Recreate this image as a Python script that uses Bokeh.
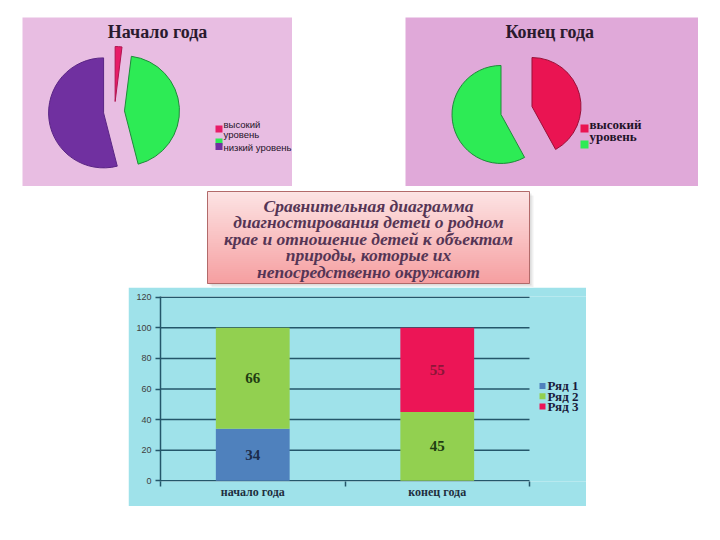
import numpy as np
from bokeh.plotting import figure
from bokeh.layouts import column, row
from bokeh.models import Spacer, Range1d, FixedTicker, ColumnDataSource
from bokeh.core.properties import value
from bokeh.embed import file_html
from bokeh.resources import INLINE

# ---------------- data ----------------
pie1_title = "Начало года"
pie1_legend = ["высокий\nуровень", "", "низкий уровень"]
pie1_values = [2, 44, 54]

pie2_title = "Конец  года"
pie2_legend = ["высокий\nуровень", ""]
pie2_values = [42, 58]

box_lines = [
    "Сравнительная диаграмма",
    "диагностирования детей о родном",
    "крае и отношение детей к объектам",
    "природы, которые их",
    "непосредственно окружают",
]

bar_categories = ["начало года", "конец года"]
series_names = ["Ряд 1", "Ряд 2", "Ряд 3"]
series_1 = [34, 0]
series_2 = [66, 45]
series_3 = [0, 55]
y_ticks = [0, 20, 40, 60, 80, 100, 120]

# ---------------- styles ----------------
SERIF = "Liberation Serif"
SANS = "Liberation Sans"


def base_fig(w, h, bg):
    p = figure(width=w, height=h, x_range=Range1d(0, w), y_range=Range1d(0, h),
               x_axis_location=None, y_axis_location=None,
               output_backend="svg", toolbar_location=None, min_border=0)
    p.grid.visible = False
    p.outline_line_color = None
    p.background_fill_color = bg
    p.border_fill_color = bg
    return p


def make_pie(w, h, bg, cx, cy, R, offsets, values, fills, lines, title, tsize,
             leg_labels, leg_x, leg_ys, text_ys, leg_size, leg_font, leg_style, leg_fsize, leg_lh):
    p = base_fig(w, h, bg)
    frac = np.array(values, dtype=float) / sum(values)
    cum = np.concatenate([[0.0], np.cumsum(frac)])
    t0 = cum[:-1] * 2 * np.pi
    t1 = cum[1:] * 2 * np.pi
    mid = (t0 + t1) / 2
    off = np.array(offsets, dtype=float)
    xs = cx + off * np.sin(mid)
    ys = cy + off * np.cos(mid)
    p.wedge(x=xs, y=ys, radius=R, start_angle=np.pi / 2 - t0, end_angle=np.pi / 2 - t1,
            direction="clock", fill_color=fills, line_color=lines, line_width=1)
    p.text(x=[w / 2], y=[155], text=[title], text_font=value(SERIF), text_font_style="bold",
           text_font_size=tsize, text_color="#2a1a2e", text_align="center",
           text_baseline="alphabetic")
    # legend
    p.rect(x=[leg_x + leg_size / 2] * len(leg_ys), y=leg_ys, width=leg_size, height=leg_size,
           fill_color=fills, line_color=None)
    tx, ty, tt = [], [], []
    for lab, yy in zip(leg_labels, text_ys):
        parts = lab.split("\n")
        for k, part in enumerate(parts):
            if part:
                tx.append(leg_x + leg_size + 1)
                ty.append(yy - k * leg_lh)
                tt.append(part)
    p.text(x=tx, y=ty, text=tt, text_font=value(leg_font), text_font_style=leg_style,
           text_font_size=leg_fsize, text_color="#1e1228", text_align="left",
           text_baseline="middle")
    return p


pie1 = make_pie(270, 169, "#e8bde2", 92, 75, 55, [10, 10, 11], pie1_values,
                ["#e81c68", "#2deb55", "#7030a0"], ["#b01550", "#1f8a3a", "#5a2585"],
                pie1_title, "18px",
                pie1_legend, 193, [57.5, 44.5, 40], [62, 0, 39], 7, SANS, "normal", "9.5px", 10)

pie2 = make_pie(293, 169, "#e0a9d9", 111, 76, 49, [16, 16], pie2_values,
                ["#ea1452", "#2deb55"], ["#9a1038", "#1f8a3a"],
                pie2_title, "18px",
                pie2_legend, 175, [58, 42], [62, 0], 8, SERIF, "bold", "13px", 12)

# ---------------- title box ----------------
tb = base_fig(336, 99, "#ffffff")
tb.quad(left=[11], right=[333], bottom=[0.5], top=[92], fill_color="#000000", fill_alpha=0.06, line_color=None)
tb.quad(left=[9], right=[331], bottom=[2], top=[94], fill_color="#000000", fill_alpha=0.08, line_color=None)
n = 46
edges = np.linspace(96, 4, n + 1)
c0 = np.array([253, 228, 228])
c1 = np.array([246, 160, 162])
cols = ["#%02x%02x%02x" % tuple(int(v) for v in (c0 + (c1 - c0) * t)) for t in np.linspace(0, 1, n)]
tb.quad(left=7, right=329, top=edges[:-1], bottom=edges[1:], fill_color=cols, line_color=cols)
tb.quad(left=[7], right=[329], top=[96], bottom=[4], fill_color=None, line_color="#b26a6a", line_width=1)
line_y = 82 - 16.6 * np.arange(len(box_lines))
tb.text(x=[168] * len(box_lines), y=line_y, text=box_lines, text_font=value(SERIF),
        text_font_style="bold italic", text_font_size="17.5px", text_color="#553555",
        text_align="center", text_baseline="middle")

# ---------------- bar chart ----------------
BG = "#9fe2ea"
DARK = "#24566a"
W, H = 458, 219
BL, BR, BT, BB = 32, 0, 9, 25
n_cat = len(bar_categories)
plot_px = 369.0                      # width of the category area in px
frame_px = W - BL - BR
x_end = n_cat * frame_px / plot_px   # frame extends right to hold the legend
bp = figure(width=W, height=H, x_range=Range1d(0, x_end), y_range=Range1d(-0.5, 120.5),
            output_backend="svg", toolbar_location=None,
            min_border_left=BL, min_border_right=BR, min_border_top=BT, min_border_bottom=BB)
bp.background_fill_color = BG
bp.border_fill_color = BG
bp.outline_line_color = None
bp.grid.visible = False

# horizontal gridlines across the category area only
bp.segment(x0=[0] * len(y_ticks), x1=[n_cat] * len(y_ticks), y0=y_ticks, y1=y_ticks,
           line_color=DARK, line_width=1.5)

xs = [0.5 + i for i in range(n_cat)]
src = ColumnDataSource(data={"x": xs, "Ряд 1": series_1, "Ряд 2": series_2, "Ряд 3": series_3})
bar_colors = ["#4f81bd", "#92d050", "#ec1556"]
rs = bp.vbar_stack(series_names, x="x", width=0.4, source=src, color=bar_colors, line_color=None)

vals = np.array([series_1, series_2, series_3], dtype=float)
tops = np.cumsum(vals, axis=0)
centers = tops - vals / 2
lab_colors = ["#1c2b4b", "#1f3d12", "#8c1538"]
lx, ly, lt, lc = [], [], [], []
for s in range(vals.shape[0]):
    for c in range(vals.shape[1]):
        if vals[s, c] > 0:
            lx.append(xs[c]); ly.append(centers[s, c]); lt.append("%d" % vals[s, c]); lc.append(lab_colors[s])
bp.text(x=lx, y=ly, text=lt, text_color=lc, text_font=value(SERIF), text_font_style="bold",
        text_font_size="15px", text_align="center", text_baseline="middle")

# legend (drawn in the frame's right part)
px_x = plot_px / n_cat                 # px per x unit
px_y = (H - BT - BB) / 121.0           # px per y unit
leg_x = n_cat + 13 / px_x
leg_top = 62.0
leg_step = 10.3 / px_y
leg_y = [leg_top - i * leg_step for i in range(len(series_names))]
bp.rect(x=[leg_x] * len(series_names), y=leg_y, width=6, height=6,
        width_units="screen", height_units="screen", fill_color=bar_colors, line_color=None)
bp.text(x=[leg_x + 5 / px_x] * len(series_names), y=leg_y, text=series_names,
        text_font=value(SERIF), text_font_style="bold", text_font_size="13px",
        text_color="#1a1a3a", text_align="left", text_baseline="middle")

bp.yaxis.ticker = FixedTicker(ticks=y_ticks, minor_ticks=[])
bp.yaxis.axis_line_color = DARK
bp.yaxis.axis_line_width = 1.5
bp.yaxis.major_tick_line_color = DARK
bp.yaxis.major_tick_line_width = 1.5
bp.yaxis.major_tick_out = 5
bp.yaxis.major_tick_in = 0
bp.yaxis.major_label_standoff = 4
bp.yaxis.major_label_text_font = SANS
bp.yaxis.major_label_text_font_size = "9px"
bp.yaxis.major_label_text_color = "#404040"

bp.xaxis.ticker = FixedTicker(ticks=xs, minor_ticks=list(range(n_cat + 1)))
bp.xaxis.major_label_overrides = {x: lab for x, lab in zip(xs, bar_categories)}
bp.xaxis.axis_line_color = None
bp.xaxis.major_tick_line_color = None
bp.xaxis.minor_tick_line_color = DARK
bp.xaxis.minor_tick_line_width = 1.5
bp.xaxis.minor_tick_out = 5
bp.xaxis.minor_tick_in = 0
bp.xaxis.major_label_standoff = -3
bp.xaxis.major_label_text_font = SERIF
bp.xaxis.major_label_text_font_style = "bold"
bp.xaxis.major_label_text_font_size = "12px"
bp.xaxis.major_label_text_color = "#1e2e3e"

layout = column(
    Spacer(width=10, height=17),
    row(Spacer(width=22, height=169), pie1, Spacer(width=113, height=169), pie2),
    Spacer(width=10, height=2),
    row(Spacer(width=200, height=99), tb),
    row(Spacer(width=128, height=219), bp),
)

open("out.html", "w").write(file_html(layout, INLINE))
